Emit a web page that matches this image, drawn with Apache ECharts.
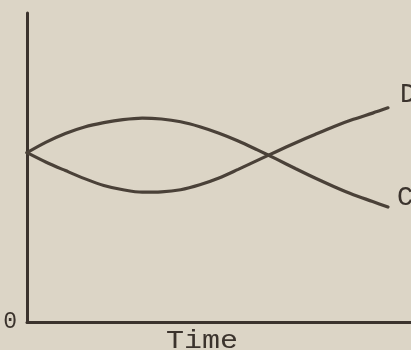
<!DOCTYPE html>
<html>
<head>
<meta charset="utf-8">
<style>
  html, body { margin: 0; padding: 0; background: #dcd5c6; }
  #chart { width: 411px; height: 350px; }
</style>
<script src="https://cdn.jsdelivr.net/npm/echarts@6/dist/echarts.min.js"></script>
</head>
<body>
<div id="chart"></div>
<script>
// Time positions (arbitrary units, 0-100 along the horizontal axis)
const times = [0, 5, 10, 15, 20, 25, 30, 35, 40, 45, 50, 55, 60, 65, 70, 75, 80, 85, 90, 94];
// Curve C: rises first, then falls below its start
const seriesC = [54.8, 58.2, 61.0, 63.1, 64.5, 65.5, 66.0, 65.7, 64.8, 63.2,
                 61.1, 58.6, 55.7, 52.7, 49.6, 46.6, 43.8, 41.2, 39.0, 37.2];
// Curve D: dips first, then climbs above its start
const seriesD = [54.8, 51.7, 49.0, 46.4, 44.2, 42.8, 42.0, 42.1, 42.8, 44.4,
                 46.6, 49.4, 52.3, 55.2, 58.0, 60.7, 63.3, 65.6, 67.6, 69.3];
const seriesNames = ['C', 'D'];
const xAxisTitle = 'Time';
const yTickLabels = ['0'];

const ink = '#4a4138';
const axisInk = '#3b332d';
const font = '"Liberation Mono", "DejaVu Sans Mono", monospace';

const pairs = vals => times.map((t, i) => [t, vals[i]]);

const chart = echarts.init(document.getElementById('chart'));
chart.setOption({
  backgroundColor: '#dcd5c6',
  animation: false,
  grid: { left: 27, right: 0, top: 13, bottom: 28 },
  xAxis: {
    type: 'value', min: 0, max: 100,
    axisLine: { show: true, lineStyle: { color: axisInk, width: 3 } },
    axisTick: { show: false },
    axisLabel: { show: false },
    splitLine: { show: false }
  },
  yAxis: {
    type: 'value', min: 0, max: 100, interval: 100,
    axisLine: { show: true, lineStyle: { color: axisInk, width: 3 } },
    axisTick: { show: false },
    splitLine: { show: false },
    axisLabel: {
      margin: 10,
      fontFamily: font, fontSize: 23, color: '#3b332d',
      padding: [0, 0, 9, 0],
      formatter: v => (v === 0 ? yTickLabels[0] : '')
    }
  },
  graphic: [{
    type: 'text',
    left: 166, top: 329,
    scaleX: 1.2,
    style: { text: xAxisTitle, font: '25px ' + font, fill: '#3b332d' }
  }],
  series: [
    {
      name: seriesNames[0], type: 'line', data: pairs(seriesC),
      smooth: 0.3, symbol: 'none', clip: false,
      lineStyle: { color: ink, width: 3.2, cap: 'round' },
      endLabel: {
        show: true, formatter: '{a}', distance: 0, offset: [9, -9],
        fontFamily: font, fontSize: 27, color: '#3b332d'
      }
    },
    {
      name: seriesNames[1], type: 'line', data: pairs(seriesD),
      smooth: 0.3, symbol: 'none', clip: false,
      lineStyle: { color: ink, width: 3.2, cap: 'round' },
      endLabel: {
        show: true, formatter: '{a}', distance: 0, offset: [12, -13],
        fontFamily: font, fontSize: 27, color: '#3b332d'
      }
    }
  ]
});
</script>
</body>
</html>
